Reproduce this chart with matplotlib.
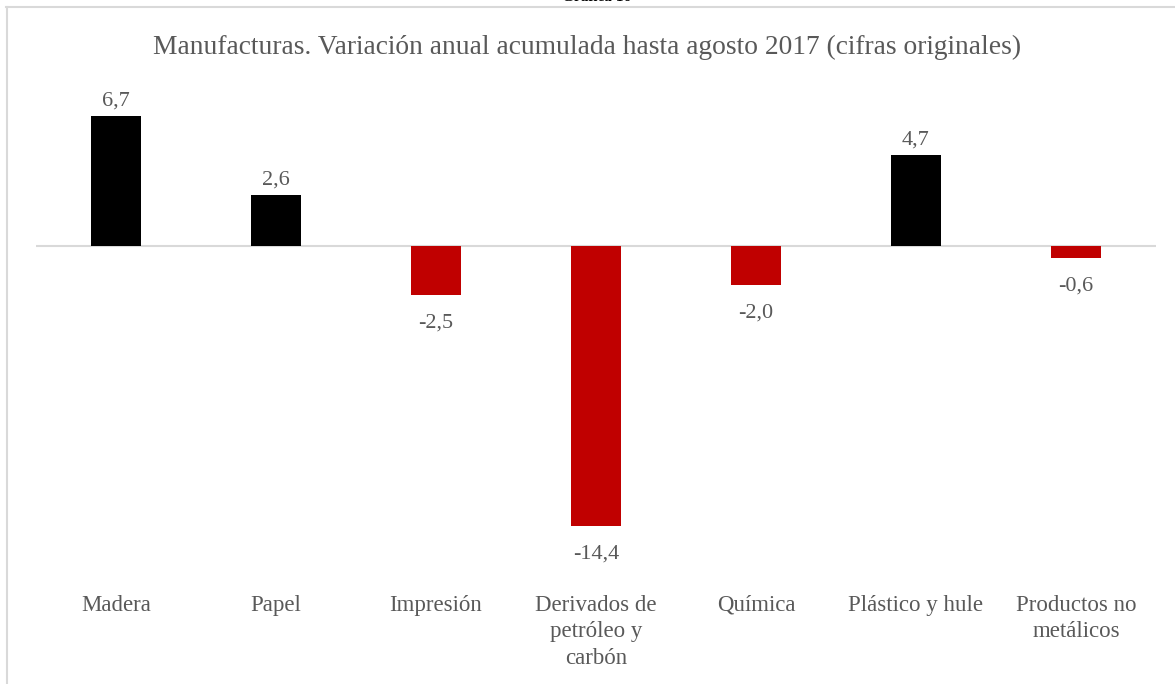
import matplotlib
matplotlib.use("Agg")
import matplotlib.pyplot as plt
from matplotlib.lines import Line2D

categories = ["Madera", "Papel", "Impresión", "Derivados de\npetróleo y\ncarbón",
              "Química", "Plástico y hule", "Productos no\nmetálicos"]
values = [6.7, 2.6, -2.5, -14.4, -2.0, 4.7, -0.6]
value_labels = ["6,7", "2,6", "-2,5", "-14,4", "-2,0", "4,7", "-0,6"]
title = "Manufacturas. Variación anual acumulada hasta agosto 2017 (cifras originales)"
header = "Gráfica 16"

W, H = 1175, 684
DPI = 100
plt.rcParams['font.family'] = ['Liberation Serif', 'DejaVu Serif']
fig = plt.figure(figsize=(W / DPI, H / DPI), dpi=DPI)

# axes: x from 36 to 1156 px; y range chosen so zero sits at ~246 px
ymin, ymax = -16.0, 8.0
ppu = 19.43
top_px = 246 - ymax * ppu
bot_px = 246 - ymin * ppu
ax = fig.add_axes([36 / W, 1 - bot_px / H, (1156 - 36) / W, (bot_px - top_px) / H])
ax.set_xlim(-0.5, len(categories) - 0.5)
ax.set_ylim(ymin, ymax)

text_color = "#595959"
colors = ["#000000" if v >= 0 else "#C00000" for v in values]
x = list(range(len(categories)))
ax.bar(x, values, width=0.31, color=colors, zorder=2)
ax.axhline(0, color="#D9D9D9", lw=1.5, zorder=1)

for xi, v, lab in zip(x, values, value_labels):
    off = 15 if v >= 0 else -28
    ax.annotate(lab, (xi, v), xytext=(0, off * 72 / DPI), textcoords="offset points",
                ha="center", va="center", fontsize=16, color=text_color)

for s in ax.spines.values():
    s.set_visible(False)
ax.set_yticks([])
ax.set_xticks(x)
ax.set_xticklabels(categories, fontsize=16.5, color=text_color, linespacing=1.33)
ax.tick_params(axis="x", length=0, pad=(595 - bot_px) * 72 / DPI)

fig.text(0.5, 1 - 47 / H, title, ha="center", va="center", fontsize=19.8, color=text_color)
fig.text(597 / W, 1 - 4 / H, header, ha="center", va="bottom", fontsize=11,
         fontweight="bold", color="#000000")

# chart border (light gray)
fig.add_artist(Line2D([6 / W, 1.0], [1 - 6.5 / H, 1 - 6.5 / H], color="#D9D9D9", lw=1.5,
                      transform=fig.transFigure))
fig.add_artist(Line2D([6.5 / W, 6.5 / W], [0, 1 - 6.5 / H], color="#D9D9D9", lw=1.5,
                      transform=fig.transFigure))

fig.savefig("out.png", dpi=DPI)
